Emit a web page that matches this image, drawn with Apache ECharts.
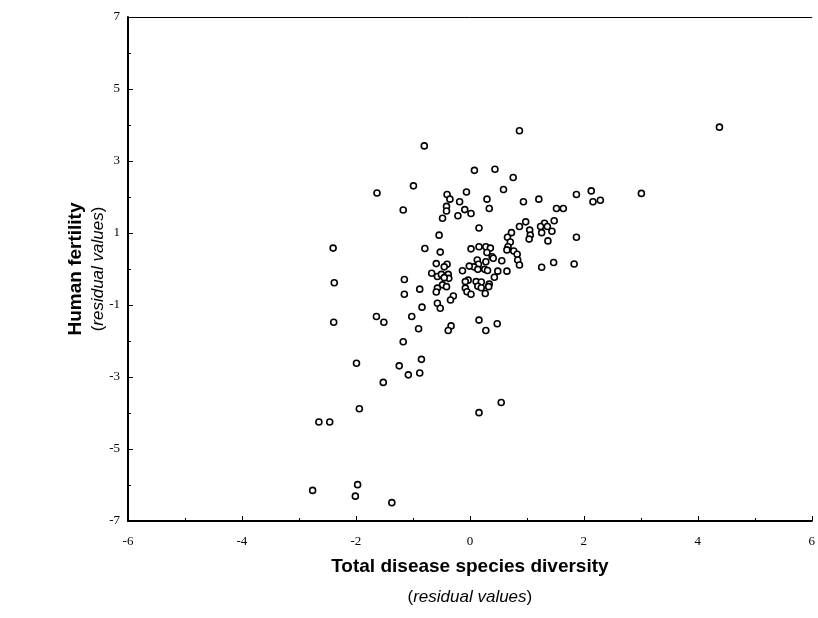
<!DOCTYPE html>
<html>
<head>
<meta charset="utf-8">
<script src="https://cdn.jsdelivr.net/npm/echarts@6/dist/echarts.min.js"></script>
<style>
  html, body { margin: 0; padding: 0; background: #fff; }
  #chart { width: 818px; height: 618px; }
</style>
</head>
<body>
<div id="chart"></div>
<script>
// residual values: [disease diversity, fertility]
const diversity = [
  4.38, 0.87, -0.80, 0.08, 0.44, 0.76, -0.99, -1.63, -0.06, 0.59,
  -0.40, -0.35, -0.18, 0.30, 0.94, 1.21, 1.87, 2.13, 2.16, 2.29,
  3.01, -0.41, -0.41, -0.09, 0.02, -0.21, -0.48, -1.17, 0.34, 1.52,
  1.64, 1.48, 0.98, 0.87, 0.16, 1.05, 1.31, 1.24, 1.36, 1.44,
  1.26, 0.73, 0.66, 1.06, 1.04, 0.71, 1.37, 1.87, -0.54, 0.67,
  0.02, 0.16, 0.28, 0.36, -2.40, -0.79, -0.52, 0.65, 0.77, 0.30,
  0.83, 0.39, 0.41, 0.56, 0.84, 0.87, 0.28, 0.13, 0.15, 0.07,
  -0.01, 0.14, 0.26, 0.31, 0.49, 0.65, 0.43, 1.26, 1.47, 1.83,
  -0.13, -0.59, -0.40, -0.45, -0.67, -0.57, -0.50, -0.38, -0.37, -0.45,
  -0.03, -0.08, 0.11, 0.20, 0.34, 0.33, 0.14, 0.20, -0.08, -0.05,
  0.02, 0.27, -0.48, -0.41, -0.57, -0.59, -0.29, -0.34, -0.57, -0.52,
  -0.84, -2.38, -1.15, -0.88, -1.15, -1.64, -1.51, -2.39, -1.02, -0.90,
  -0.33, -0.38, 0.16, 0.48, 0.28, -1.17, -1.99, -0.85, -1.24, -1.08,
  -0.88, -1.52, -1.94, -2.65, -2.46, 0.16, 0.55, -1.97, -2.76, -2.01,
  -1.37
];
const fertility = [
  3.94, 3.84, 3.42, 2.74, 2.77, 2.54, 2.31, 2.11, 2.14, 2.21,
  2.07, 1.94, 1.87, 1.94, 1.87, 1.94, 2.07, 2.17, 1.87, 1.91,
  2.10, 1.74, 1.61, 1.65, 1.54, 1.48, 1.41, 1.64, 1.68, 1.68,
  1.68, 1.34, 1.31, 1.18, 1.14, 1.08, 1.27, 1.18, 1.18, 1.05,
  1.01, 1.01, 0.88, 0.94, 0.83, 0.75, 0.78, 0.88, 0.94, 0.62,
  0.56, 0.62, 0.62, 0.58, 0.58, 0.57, 0.47, 0.53, 0.50, 0.46,
  0.41, 0.34, 0.30, 0.23, 0.25, 0.11, 0.20, 0.25, 0.13, 0.06,
  0.08, -0.01, -0.01, -0.04, -0.06, -0.06, -0.23, 0.05, 0.18, 0.14,
  -0.05, 0.15, 0.13, 0.06, -0.12, -0.21, -0.15, -0.15, -0.26, -0.24,
  -0.31, -0.35, -0.35, -0.36, -0.42, -0.49, -0.48, -0.52, -0.53, -0.63,
  -0.70, -0.68, -0.44, -0.49, -0.53, -0.64, -0.75, -0.86, -0.95, -1.09,
  -1.06, -0.38, -0.29, -0.56, -0.70, -1.32, -1.48, -1.48, -1.32, -1.66,
  -1.58, -1.71, -1.42, -1.52, -1.71, -2.02, -2.62, -2.51, -2.69, -2.94,
  -2.89, -3.15, -3.88, -4.25, -4.25, -3.99, -3.71, -5.99, -6.15, -6.31,
  -6.49
];
const xRange = [-6, 6];
const yRange = [-7, 7];

const points = diversity.map((x, i) => [x, fertility[i]]);

const serif = '"Liberation Serif", "DejaVu Serif", serif';
const sans = '"Liberation Sans", Arial, sans-serif';

function titleRich(lh) {
  return {
    b: { fontFamily: sans, fontWeight: 'bold', fontSize: 19, color: '#000', lineHeight: lh },
    n: { fontFamily: sans, fontSize: 17, color: '#000', lineHeight: lh },
    i: { fontFamily: sans, fontStyle: 'italic', fontSize: 17, color: '#000', lineHeight: lh },
  };
}

const chart = echarts.init(document.getElementById('chart'), null, { renderer: 'canvas' });
chart.setOption({
  backgroundColor: '#fff',
  animation: false,
  grid: { left: 128, right: 2, top: 17, bottom: 97, containLabel: false },
  xAxis: [
    {
      type: 'value', min: xRange[0], max: xRange[1], interval: 2,
      name: '{b|Total disease species diversity}\n{n|(}{i|residual values}{n|)}',
      nameLocation: 'middle', nameGap: 30, nameMoveOverlap: false,
      nameTextStyle: { rich: titleRich(31), align: 'center' },
      axisLine: { onZero: false, lineStyle: { color: '#000', width: 2 } },
      axisTick: { inside: true, length: 5, lineStyle: { color: '#000' } },
      minorTick: { show: true, splitNumber: 2, length: 3, lineStyle: { color: '#000' } },
      axisLabel: { fontFamily: serif, fontSize: 13, color: '#000', margin: 14 },
      splitLine: { show: false },
    },
    {
      type: 'value', position: 'top', min: xRange[0], max: xRange[1], interval: 2,
      axisLine: { show: true, onZero: false, lineStyle: { color: '#000', width: 1 } },
      axisTick: { show: false }, axisLabel: { show: false }, splitLine: { show: false },
    },
  ],
  yAxis: {
    type: 'value', min: yRange[0], max: yRange[1], interval: 2,
    name: '{b|Human fertility}\n{n|(}{i|residual values}{n|)}',
    nameLocation: 'middle', nameGap: 19, nameRotate: 90, nameMoveOverlap: false,
    nameTextStyle: { rich: titleRich(22), align: 'center' },
    axisLine: { onZero: false, lineStyle: { color: '#000', width: 2 } },
    axisTick: { inside: true, length: 5, lineStyle: { color: '#000' } },
    minorTick: { show: true, splitNumber: 2, length: 3, lineStyle: { color: '#000' } },
    axisLabel: { fontFamily: serif, fontSize: 13, color: '#000', margin: 8 },
    splitLine: { show: false },
  },
  series: [{
    type: 'scatter',
    xAxisIndex: 0,
    yAxisIndex: 0,
    data: points,
    symbol: 'circle',
    symbolSize: 6,
    itemStyle: { color: '#fff', borderColor: '#000', borderWidth: 1.6, opacity: 1 },
  }],
});
</script>
</body>
</html>
